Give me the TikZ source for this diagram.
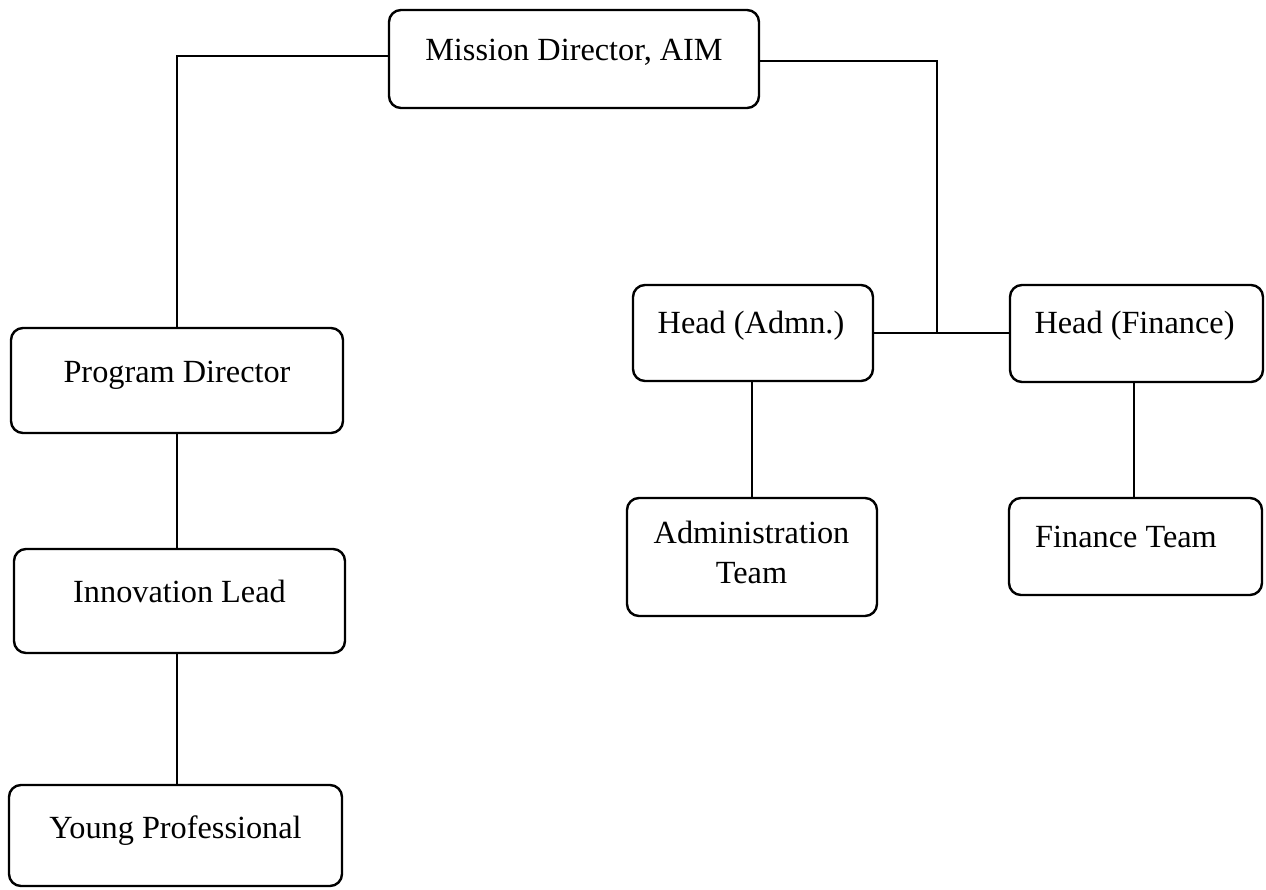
\documentclass[tikz,border=0pt]{standalone}
\usepackage{fontspec}
\setmainfont{Liberation Serif}
\begin{document}
\begin{tikzpicture}[x=1pt,y=-1pt,
  box/.style={draw=black, line width=2.4pt, rounded corners=12pt, inner sep=0pt},
  lbl/.style={anchor=base, inner sep=0pt, font=\fontsize{32.3}{40}\selectfont},
  conn/.style={draw=black, line width=1.3pt}]
\useasboundingbox[fill=white] (0,0) rectangle (1266,889);
% boxes
\node[box, minimum width=370pt, minimum height=98pt]  (md) at (574,59) {};
\node[box, minimum width=332pt, minimum height=105pt] (pd) at (177,380.5) {};
\node[box, minimum width=331pt, minimum height=104pt] (il) at (179.5,601) {};
\node[box, minimum width=333pt, minimum height=101pt] (yp) at (175.5,835.5) {};
\node[box, minimum width=240pt, minimum height=96pt]  (ha) at (753,333) {};
\node[box, minimum width=253pt, minimum height=97pt]  (hf) at (1136.5,333.5) {};
\node[box, minimum width=250pt, minimum height=118pt] (at) at (752,557) {};
\node[box, minimum width=253pt, minimum height=97pt]  (ft) at (1135.5,546.5) {};
% labels
\node[lbl] (tmd) at (574,60) {Mission Director, AIM};
\node[lbl] (tpd) at (177,382) {Program Director};
\node[lbl] (til) at (179.5,602) {Innovation Lead};
\node[lbl] (typ) at (175.5,838) {Young Professional};
\node[lbl] (tha) at (751,333) {Head (Admn.)};
\node[lbl] (thf) at (1134.5,333) {Head (Finance)};
\node[lbl] (tat1) at (751.5,543) {Administration};
\node[lbl] (tat2) at (751.5,583) {Team};
\node[lbl] (tft) at (1126,547) {Finance Team};
% connectors
\coordinate (jn) at (937,333);
\draw[conn] ([yshift=3pt]md.west) -| (pd.north -| 177,0);
\draw[conn] ([yshift=-2pt]md.east) -| (jn);
\draw[conn] (ha.east) -- (hf.west |- ha.east);
\draw[conn] (pd.south) -- (pd.south |- il.north);
\draw[conn] (il.south -| 177,0) -- (yp.north -| 177,0);
\draw[conn] (ha.south -| 752,0) -- (at.north -| 752,0);
\draw[conn] (hf.south -| 1134,0) -- (ft.north -| 1134,0);
\end{tikzpicture}
\end{document}
